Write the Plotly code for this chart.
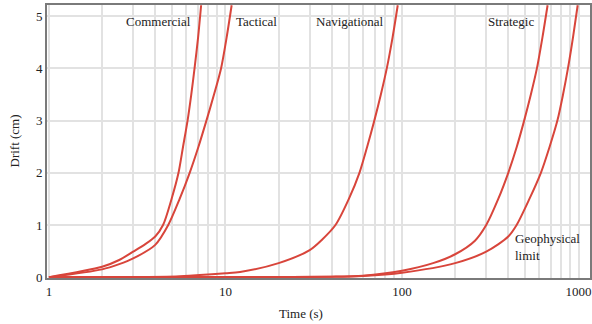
import math
import plotly.graph_objects as go

# Data (time in s, drift in cm)
commercial_t = [1, 2, 2.5, 3, 3.5, 4, 4.43, 4.95, 5.42, 5.75, 6.10, 6.40, 6.68, 7.0, 7.28]
commercial_y = [0, 0.2, 0.33, 0.49, 0.63, 0.78, 1.0, 1.5, 2.0, 2.5, 3.0, 3.5, 4.0, 4.6, 5.21]

tactical_t = [1, 2, 2.5, 3, 4, 4.74, 5.50, 6.27, 7.03, 7.80, 8.61, 9.44, 10.16, 10.84]
tactical_y = [0, 0.15, 0.25, 0.36, 0.62, 1.0, 1.5, 2.0, 2.5, 3.0, 3.5, 4.0, 4.6, 5.21]

navigational_t = [1, 3, 5.5, 10, 12.1, 20, 30, 35, 42, 50, 57.4, 63.5, 69.7, 75.9, 82, 88.5, 94.6]
navigational_y = [0, 0.003, 0.02, 0.075, 0.1, 0.27, 0.52, 0.71, 1.0, 1.5, 2.0, 2.5, 3.0, 3.5, 4.0, 4.6, 5.21]

strategic_t = [1, 20, 40, 60, 100, 150, 200, 259, 300, 351, 400, 447, 492, 537, 581, 625, 668]
strategic_y = [0, 0.003, 0.01, 0.03, 0.125, 0.27, 0.44, 0.7, 1.0, 1.5, 2.0, 2.5, 3.0, 3.5, 4.0, 4.6, 5.21]

geophysical_t = [1, 20, 40, 60, 100, 200, 300, 400, 446, 527, 612, 686, 759, 817, 871, 931, 989]
geophysical_y = [0, 0.002, 0.008, 0.025, 0.087, 0.27, 0.49, 0.78, 1.0, 1.5, 2.0, 2.5, 3.0, 3.5, 4.0, 4.6, 5.21]

x_major = [1, 10, 100, 1000]
x_minor = [m * d for d in (1, 10, 100) for m in range(2, 10)]
y_ticks = [0, 1, 2, 3, 4, 5]

labels = ["Commercial", "Tactical", "Navigational", "Strategic"]
label_t = [4.15, 14.9, 50.7, 415]

RED = "#d8453b"
FONT = "Liberation Serif"
TXT = "#222222"

fig = go.Figure()
for t, y in [(commercial_t, commercial_y), (tactical_t, tactical_y),
             (navigational_t, navigational_y), (strategic_t, strategic_y),
             (geophysical_t, geophysical_y)]:
    fig.add_trace(go.Scatter(x=t, y=y, mode="lines",
                             line=dict(color=RED, width=2, shape="spline", smoothing=0.8),
                             hoverinfo="skip", showlegend=False))

for lab, t in zip(labels, label_t):
    fig.add_annotation(x=math.log10(t), y=4.89, text=lab, showarrow=False,
                       font=dict(family=FONT, size=13, color=TXT), xanchor="center", yanchor="middle")

fig.add_annotation(x=math.log10(425), y=0.57, text="Geophysical<br>limit",
                   showarrow=False, align="left", xanchor="left", yanchor="middle",
                   font=dict(family=FONT, size=13, color=TXT))

# axis titles as paper-positioned annotations
fig.add_annotation(xref="paper", yref="paper", x=(301 - 47) / 543, y=-35 / 273,
                   text="Time (s)", showarrow=False, xanchor="center", yanchor="middle",
                   font=dict(family=FONT, size=13, color=TXT))
fig.add_annotation(xref="paper", yref="paper", x=-33 / 543, y=0.5,
                   text="Drift (cm)", showarrow=False, textangle=-90,
                   xanchor="center", yanchor="middle",
                   font=dict(family=FONT, size=13, color=TXT))

fig.update_layout(
    width=592, height=324,
    margin=dict(l=47, r=2, t=5, b=46),
    paper_bgcolor="white", plot_bgcolor="white",
    font=dict(family=FONT, size=13, color=TXT),
)
fig.update_xaxes(
    type="log", range=[-0.011, 3.065], automargin=False,
    tickmode="array", tickvals=x_major, ticktext=[str(v) for v in x_major],
    showgrid=True, gridcolor="#e2e2e2", gridwidth=2,
    minor=dict(tickmode="array", tickvals=x_minor, showgrid=True,
               gridcolor="#e2e2e2", gridwidth=2, ticks=""),
    showline=True, linecolor="#7a7a7a", linewidth=2, mirror=True,
    ticks="", zeroline=False, layer="below traces",
)
fig.update_yaxes(
    range=[-0.015, 5.215], automargin=False,
    tickmode="array", tickvals=y_ticks,
    showgrid=True, gridcolor="#e2e2e2", gridwidth=2,
    showline=True, linecolor="#7a7a7a", linewidth=2, mirror=True,
    ticks="", zeroline=False, layer="below traces",
)

fig.write_html("out.html", config={"displayModeBar": False},
               post_script="document.body.style.margin='0';")
